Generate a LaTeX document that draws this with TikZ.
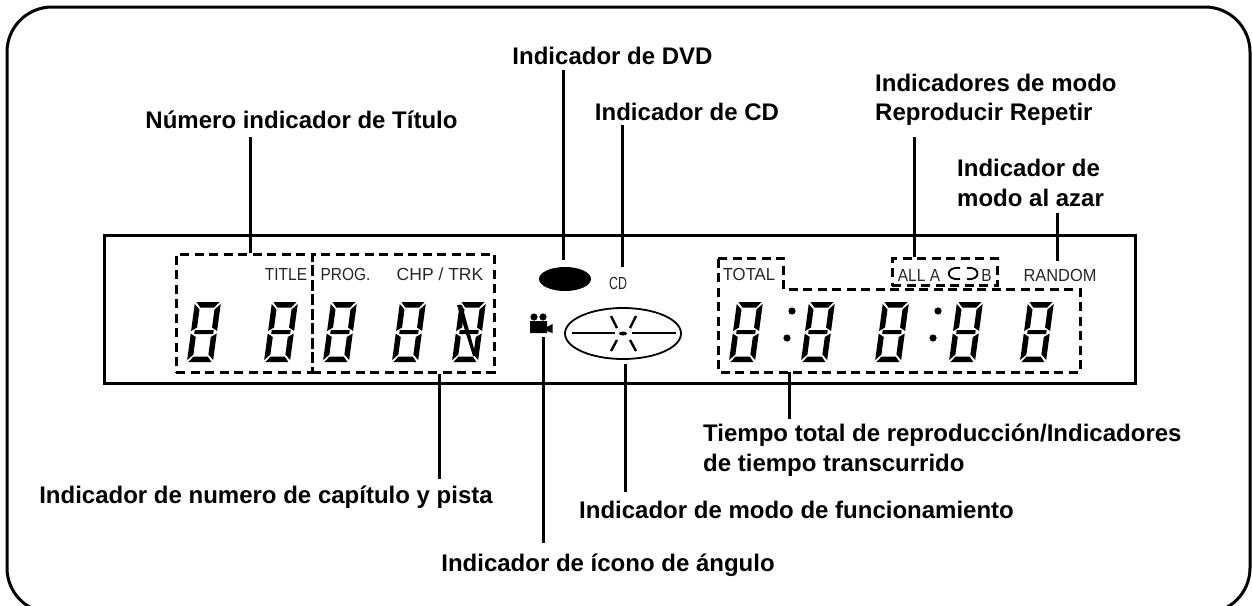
\documentclass[tikz,border=0pt]{standalone}
\usepackage{fontspec}
\setmainfont{Liberation Sans}
\usetikzlibrary{positioning, shapes.geometric}

% one pixel of the reference is one point here
\tikzset{
    lbl/.style = {font=\bfseries\fontsize{24}{29.5}\selectfont, inner sep=0pt, align=left},
    disp/.style = {font=\fontsize{17.5}{20}\selectfont, inner sep=0pt, text=black!85, xscale=0.885},
    dashbox/.style = {draw, line width=3pt, dash pattern=on 9pt off 5.5pt, inner sep=0pt},
    lead/.style = {line width=3pt},
    pics/digit/.style = {code = {
        \begin{scope}[cm={1,0,0.135,1,(0,0)}]
            \fill (1.5,0) -- (24.5,0) -- (20,5.5) -- (6,5.5) -- cycle;
            \fill (0,2) -- (5.5,7.5) -- (5.5,25.5) -- (0,29) -- cycle;
            \fill (26,2) -- (20.5,7.5) -- (20.5,25.5) -- (26,29) -- cycle;
            \fill (3.5,28) -- (22.5,28) -- (22.5,32) -- (3.5,32) -- cycle;
            \fill (0,31.5) -- (5.5,35) -- (5.5,52.5) -- (0,58) -- cycle;
            \fill (26,31.5) -- (20.5,35) -- (20.5,52.5) -- (26,58) -- cycle;
            \fill (6,54.5) -- (20,54.5) -- (24.5,60) -- (1.5,60) -- cycle;
        \end{scope}
    }}
}

\begin{document}
\begin{tikzpicture}[x=1pt, y=-1pt]
    \useasboundingbox (0,0) rectangle (1252,605);

    % frame and display
    \node (frame) at (628.5,310) [draw, line width=3pt, rounded corners=45pt, minimum width=1243pt, minimum height=606pt, inner sep=0pt] {};
    \node (panel) at (619.5,309) [draw, line width=3pt, minimum width=1031pt, minimum height=148pt, inner sep=0pt] {};

    % digits
    \foreach \dx/\dy in {195/302, 272/302, 331/302, 400/302, 460/302, 737/302, 809/302, 883/302, 957/302, 1028/302}
        \pic at (\dx,\dy) {digit};
    \fill (457,305) -- (462,305) -- (476,356) -- (473,356) -- cycle;
    \foreach \cx/\cy in {792/311, 787/338, 938/311, 933/338}
        \fill (\cx,\cy) circle (3.6pt);

    % dashed groups
    \node (box_title) at (244,313) [dashbox, minimum width=136pt, minimum height=118pt] {};
    \node (box_chp) at (403,313) [dashbox, minimum width=182pt, minimum height=118pt] {};
    \draw [dashbox] (718,258) -- (783,258) -- (783,289) -- (1080,289) -- (1080,372) -- (718,372) -- cycle;
    \node (box_rep) at (944.5,272) [dashbox, minimum width=105pt, minimum height=27pt] {};
    \coordinate (box_time) at (789,372);

    % display texts
    \node (t_title) at (286,274) [disp] {TITLE};
    \node (t_prog) at (345.5,274) [disp] {PROG.};
    \node (t_chp) at (440,274) [disp, xscale=1.13] {CHP / TRK};
    \node (t_cd) at (618,283) [disp, xscale=0.8] {CD};
    \node (t_total) at (749,274) [disp, xscale=1.08] {TOTAL};
    \node (t_all) at (919,275) [disp] {ALL A};
    \node (t_b) at (986.5,275) [disp] {B};
    \node (t_random) at (1060,275) [disp, xscale=1.06] {RANDOM};
    \draw [line width=1.8pt] (960,268) .. controls (945,266) and (945,281) .. (960,279);
    \draw [line width=1.8pt] (967,268) .. controls (981,266) and (981,281) .. (967,279);

    % disc symbols
    \node (dvd) at (565,279) [ellipse, fill, minimum width=52pt, minimum height=24pt, inner sep=0pt] {};
    \node (reel) at (623,333.5) [ellipse, draw, line width=1.8pt, minimum width=116pt, minimum height=51pt, inner sep=0pt] {};
    \draw [line width=1.8pt] (572,333) -- (615,333) (632,333) -- (676,333);
    \fill (623,333.5) ellipse (4pt and 2pt);
    \draw [line width=2.4pt] (611,316) -- (617,328) (636,316) -- (630,328) (611,351) -- (617,340) (636,351) -- (630,340);

    % camera icon
    \node (cam) at (541,326) [minimum width=24pt, minimum height=22pt, inner sep=0pt] {};
    \fill (534,317) circle (3.6pt) (543,317) circle (3.6pt);
    \fill (530,321) rectangle (547,333) (547,327) -- (552.5,324) -- (552.5,333) -- (547,331) -- cycle;

    % labels
    \node (l_dvd) at (612.5,56) [lbl] {Indicador de DVD};
    \node (l_cd) at (687,112) [lbl] {Indicador de CD};
    \node (l_title) at (301.5,120) [lbl] {Número indicador de Título};
    \node (l_rep) at (875,100) [lbl, anchor=west] {Indicadores de modo\\Reproducir Repetir};
    \node (l_random) at (957,183) [lbl, anchor=west] {Indicador de\\modo al azar};
    \node (l_time) at (703,450) [lbl, anchor=west] {Tiempo total de reproducción/Indicadores\\de tiempo transcurrido};
    \node (l_chp) at (266,497) [lbl] {Indicador de numero de capítulo y pista};
    \node (l_mode) at (796.5,510) [lbl] {Indicador de modo de funcionamiento};
    \node (l_cam) at (608,565) [lbl] {Indicador de ícono de ángulo};

    % leaders
    \coordinate (p_title) at (250.5,137);
    \coordinate (p_dvd) at (563,70);
    \coordinate (p_cd) at (622,125);
    \coordinate (p_rep) at (914,137);
    \coordinate (p_random) at (1057,213);
    \coordinate (p_chp) at (439,479);
    \coordinate (p_cam) at (543,543);
    \coordinate (p_mode) at (625,492);
    \coordinate (p_time) at (789,419);
    \draw [lead] (p_title) -- (box_title.north -| p_title);
    \draw [lead, shorten >=7pt] (p_dvd) -- (dvd.north -| p_dvd);
    \draw [lead, shorten >=10pt] (p_cd) -- (t_cd.north -| p_cd);
    \draw [lead] (p_rep) -- (box_rep.north -| p_rep);
    \draw [lead, shorten >=8pt] (p_random) -- (t_random.north -| p_random);
    \draw [lead] (p_chp) -- (box_chp.south -| p_chp);
    \draw [lead] (p_cam) -- (cam.south -| p_cam);
    \draw [lead, shorten >=4pt] (p_mode) -- (reel.south -| p_mode);
    \draw [lead] (p_time) -- (box_time);
\end{tikzpicture}
\end{document}
